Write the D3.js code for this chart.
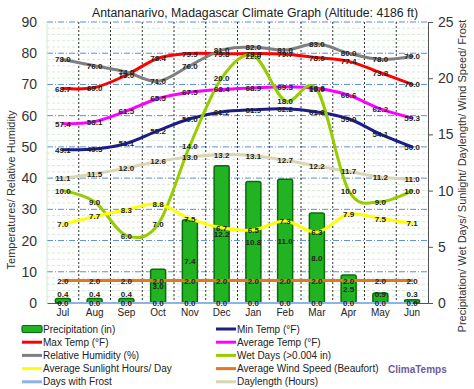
<!DOCTYPE html>
<meta charset="utf-8">
<style>
body { margin: 0; background: #fff; }
text { font-family: "Liberation Sans", Arial, sans-serif; }
</style>

<svg id="chart" width="474" height="389"></svg>

<script src="https://d3js.org/d3.v7.min.js"></script>
<script>
var months = ["Jul", "Aug", "Sep", "Oct", "Nov", "Dec", "Jan", "Feb", "Mar", "Apr", "May", "Jun"];

// left axis series
var maxTemp  = [68.7, 69.0, 73.0, 78.4, 79.9, 79.8, 79.9, 79.7, 78.6, 77.4, 73.8, 70.0];
var avgTemp  = [57.4, 58.1, 61.5, 65.5, 67.5, 68.4, 68.9, 69.3, 68.8, 66.6, 62.2, 59.3];
var minTemp  = [49.1, 49.3, 51.1, 55.2, 59.0, 61.2, 61.9, 62.2, 61.2, 59.0, 54.1, 50.0];
var humidity = [78.0, 76.0, 74.0, 71.0, 76.0, 81.0, 82.0, 81.0, 83.0, 80.0, 78.0, 79.0];

// right axis series
var precipitation = [0.4, 0.4, 0.4, 3.0, 7.4, 12.2, 10.8, 11.0, 8.0, 2.5, 0.9, 0.3];
var wetDays   = [10.0, 9.0, 6.0, 7.0, 14.0, 20.0, 22.0, 18.0, 19.0, 10.0, 9.0, 10.0];
var sunlight  = [7.0, 7.7, 8.3, 8.8, 7.5, 6.7, 6.5, 7.3, 6.3, 7.9, 7.5, 7.1];
var windSpeed = [2.0, 2.0, 2.0, 2.0, 2.0, 2.0, 2.0, 2.0, 2.0, 2.0, 2.0, 2.0];
var frostDays = [0.0, 0.0, 0.0, 0.0, 0.0, 0.0, 0.0, 0.0, 0.0, 0.0, 0.0, 0.0];
var daylength = [11.1, 11.5, 12.0, 12.6, 13.0, 13.2, 13.1, 12.7, 12.2, 11.7, 11.2, 11.0];

var leftTicks = [0, 10, 20, 30, 40, 50, 60, 70, 80, 90];
var rightTicks = [0, 5, 10, 15, 20, 25];

var svg = d3.select("#chart");
var plotLeft = 47, plotRight = 428, plotTop = 22, plotBottom = 303;

var x = d3.scaleBand().domain(months).range([plotLeft, plotRight]);
var yL = d3.scaleLinear().domain([0, 90]).range([plotBottom, plotTop]);
var yR = d3.scaleLinear().domain([0, 25]).range([plotBottom, plotTop]);
var cx = function(i) { return x(months[i]) + x.bandwidth() / 2; };

// title
svg.append("text")
    .attr("x", 255).attr("y", 17)
    .attr("text-anchor", "middle")
    .attr("font-size", 12.5)
    .attr("textLength", 326)
    .attr("lengthAdjust", "spacingAndGlyphs")
    .attr("fill", "#222")
    .text("Antananarivo, Madagascar Climate Graph (Altitude: 4186 ft)");

// minor grid
var grid = svg.append("g");
d3.range(0, 91, 2).forEach(function(v) {
    if (v % 10 == 0) return;
    grid.append("line")
        .attr("x1", plotLeft).attr("x2", plotRight)
        .attr("y1", yL(v)).attr("y2", yL(v))
        .attr("stroke", "#d6ecd6").attr("stroke-dasharray", "3,2");
});
// major grid
leftTicks.forEach(function(v) {
    if (v == 0) return;
    grid.append("line")
        .attr("x1", plotLeft).attr("x2", plotRight)
        .attr("y1", yL(v)).attr("y2", yL(v))
        .attr("stroke", "#5b8fd6").attr("stroke-dasharray", "6,2,1,2");
});
// vertical month separators
d3.range(1, 12).forEach(function(i) {
    grid.append("line")
        .attr("x1", x(months[i])).attr("x2", x(months[i]))
        .attr("y1", plotTop).attr("y2", plotBottom)
        .attr("stroke", "#333").attr("stroke-dasharray", "2,2");
});
grid.append("line")
    .attr("x1", plotLeft).attr("x2", plotLeft).attr("y1", plotTop).attr("y2", plotBottom)
    .attr("stroke", "#cfe8cf");

// axes
var leftAxis = svg.append("g")
    .attr("transform", "translate(" + plotLeft + ",0)")
    .call(d3.axisLeft(yL).tickValues(leftTicks).tickSize(0).tickPadding(10));
leftAxis.select(".domain").remove();
leftAxis.selectAll("text").attr("font-size", 14).attr("fill", "#333")
    .attr("font-family", "Liberation Sans, Arial, sans-serif");

var rightAxis = svg.append("g")
    .attr("transform", "translate(" + plotRight + ",0)")
    .call(d3.axisRight(yR).tickValues(rightTicks).tickSize(5).tickPadding(5));
rightAxis.select(".domain").attr("stroke", "#555");
rightAxis.selectAll(".tick line").attr("stroke", "#555");
rightAxis.selectAll("text").attr("font-size", 14).attr("fill", "#333")
    .attr("font-family", "Liberation Sans, Arial, sans-serif");

var bottomAxis = svg.append("g")
    .attr("transform", "translate(0," + plotBottom + ")")
    .call(d3.axisBottom(x).tickSize(0).tickPadding(6));
bottomAxis.select(".domain").attr("stroke", "#555");
bottomAxis.selectAll("text").attr("font-size", 10).attr("fill", "#222")
    .attr("font-family", "Liberation Sans, Arial, sans-serif");

// axis titles
svg.append("text")
    .attr("transform", "translate(15,190) rotate(-90)")
    .attr("text-anchor", "middle").attr("font-size", 11).attr("fill", "#333")
    .text("Temperatures/ Relative Humidity");
svg.append("text")
    .attr("transform", "translate(466,176) rotate(-90)")
    .attr("text-anchor", "middle").attr("font-size", 11).attr("fill", "#333")
    .text("Precipitation/ Wet Days/ Sunlight/ Daylength/ Wind Speed/ Frost");

// precipitation bars
var barW = 15;
svg.append("g").selectAll("rect")
    .data(precipitation)
    .enter().append("rect")
    .attr("x", function(d, i) { return cx(i) - barW / 2; })
    .attr("y", function(d) { return yR(d); })
    .attr("width", barW)
    .attr("height", function(d) { return plotBottom - yR(d); })
    .attr("rx", 2)
    .attr("fill", "#22b322")
    .attr("stroke", "#0b6b0b")
    .attr("stroke-width", 1.5);

var series = [
    { values: daylength, scale: yR, color: "#d9d6b2", width: 3 },
    { values: minTemp, scale: yL, color: "#1c1c8a", width: 3 },
    { values: maxTemp, scale: yL, color: "#ff0000", width: 3 },
    { values: avgTemp, scale: yL, color: "#ff00ff", width: 3 },
    { values: humidity, scale: yL, color: "#7f7f7f", width: 3 },
    { values: wetDays, scale: yR, color: "#99cc00", width: 3 },
    { values: sunlight, scale: yR, color: "#ffff00", width: 3 },
    { values: windSpeed, scale: yR, color: "#e8761e", width: 3 },
    { values: frostDays, scale: yR, color: "#8db4e2", width: 2 }
];

var lines = svg.append("g").attr("fill", "none");
series.forEach(function(s) {
    var line = d3.line()
        .x(function(d, i) { return cx(i); })
        .y(function(d) { return s.scale(d); })
        .curve(d3.curveCardinal.tension(0));
    lines.append("path")
        .attr("d", line(s.values))
        .attr("stroke", s.color)
        .attr("stroke-width", s.width)
        .attr("stroke-linecap", "round");
});

// data labels
var labels = svg.append("g")
    .attr("font-size", 8).attr("font-weight", "bold").attr("fill", "#222")
    .attr("text-anchor", "middle");
series.forEach(function(s) {
    s.values.forEach(function(v, i) {
        labels.append("text")
            .attr("x", cx(i)).attr("y", s.scale(v) + 3)
            .text(v.toFixed(1));
    });
});
precipitation.forEach(function(v, i) {
    var yy = Math.min(yR(v / 2) + 3, plotBottom - 6);
    labels.append("text")
        .attr("x", cx(i)).attr("y", yy)
        .text(v.toFixed(1));
});

// legend
var legendItems = [
    { name: "Precipitation (in)", color: "#22b322", bar: true },
    { name: "Min Temp (\u00b0F)", color: "#1c1c8a" },
    { name: "Max Temp (\u00b0F)", color: "#ff0000" },
    { name: "Average Temp (\u00b0F)", color: "#ff00ff" },
    { name: "Relative Humidity (%)", color: "#7f7f7f" },
    { name: "Wet Days (>0.004 in)", color: "#99cc00" },
    { name: "Average Sunlight Hours/ Day", color: "#ffff00" },
    { name: "Average Wind Speed (Beaufort)", color: "#e8761e" },
    { name: "Days with Frost", color: "#8db4e2" },
    { name: "Daylength (Hours)", color: "#d9d6b2" }
];
var legend = svg.append("g");
legendItems.forEach(function(d, k) {
    var lx = k % 2 == 0 ? 22 : 216;
    var ly = 329 + Math.floor(k / 2) * 13.2;
    if (d.bar) {
        legend.append("rect")
            .attr("x", lx).attr("y", ly - 3.5).attr("width", 20).attr("height", 7)
            .attr("rx", 1.5)
            .attr("fill", d.color).attr("stroke", "#0b6b0b").attr("stroke-width", 1.2);
    } else {
        legend.append("line")
            .attr("x1", lx).attr("x2", lx + 20).attr("y1", ly).attr("y2", ly)
            .attr("stroke", d.color).attr("stroke-width", 3);
    }
    legend.append("text")
        .attr("x", lx + 21).attr("y", ly + 3.5)
        .attr("font-size", 10).attr("fill", "#222")
        .text(d.name);
});

svg.append("text")
    .attr("x", 388).attr("y", 373)
    .attr("font-size", 10).attr("font-weight", "bold")
    .attr("font-family", "DejaVu Sans, Verdana, sans-serif")
    .attr("fill", "#6b5b9b")
    .text("ClimaTemps");
</script>
